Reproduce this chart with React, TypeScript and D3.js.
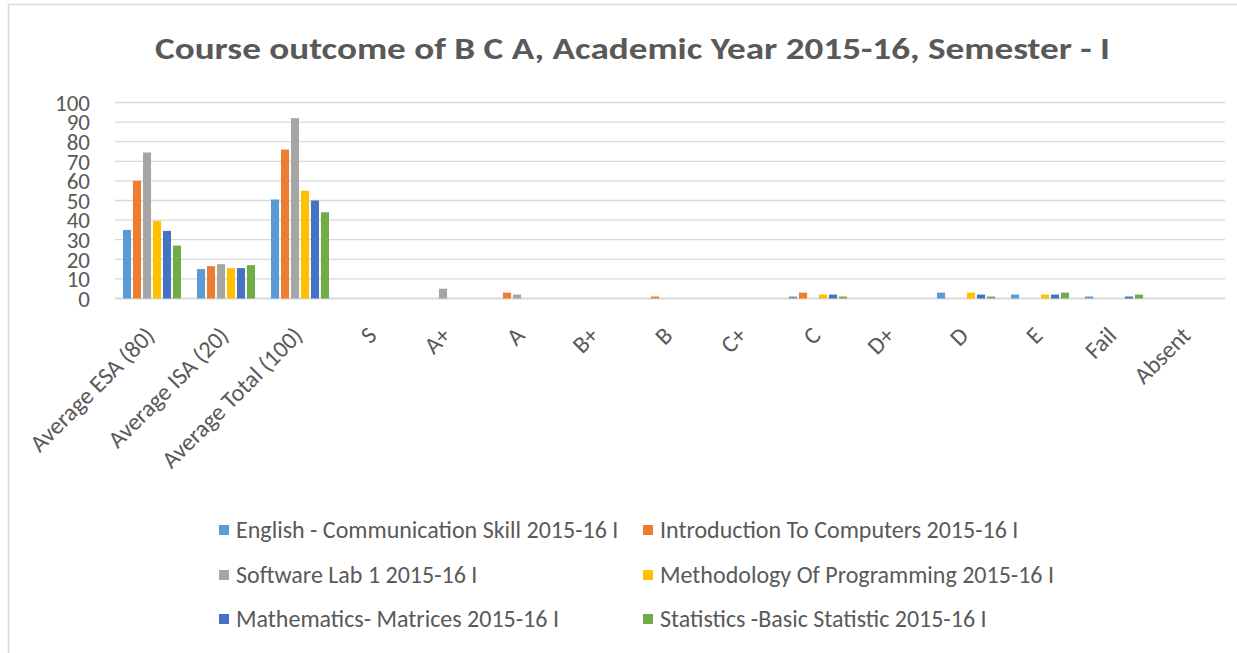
import React, { useEffect, useRef } from 'react';
import * as d3 from 'd3';

const categories = [
  'Average ESA (80)', 'Average ISA (20)', 'Average Total (100)', 'S', 'A+', 'A', 'B+', 'B',
  'C+', 'C', 'D+', 'D', 'E', 'Fail', 'Absent',
];

const seriesNames = [
  'English - Communication Skill 2015-16 I',
  'Introduction To Computers 2015-16 I',
  'Software Lab 1 2015-16 I',
  'Methodology Of Programming 2015-16 I',
  'Mathematics- Matrices 2015-16 I',
  'Statistics -Basic Statistic 2015-16 I',
];

const english = [35, 15, 50.5, 0, 0, 0, 0, 0, 0, 1, 0, 3, 2, 1, 0];
const introComputers = [60, 16.5, 76, 0, 0, 3, 0, 1, 0, 3, 0, 0, 0, 0, 0];
const softwareLab = [74.5, 17.5, 92, 0, 5, 2, 0, 0, 0, 0, 0, 0, 0, 0, 0];
const methodology = [39.5, 15.5, 55, 0, 0, 0, 0, 0, 0, 2, 0, 3, 2, 0, 0];
const mathematics = [34.5, 15.5, 50, 0, 0, 0, 0, 0, 0, 2, 0, 2, 2, 1, 0];
const statistics = [27, 17, 44, 0, 0, 0, 0, 0, 0, 1, 0, 1, 3, 2, 0];

const yTicks = [0, 10, 20, 30, 40, 50, 60, 70, 80, 90, 100];

const colors = ['#5B9BD5', '#ED7D31', '#A5A5A5', '#FFC000', '#4472C4', '#70AD47'];

const FONT = 'Carlito, Calibri, Lato, sans-serif';
const TEXT = '#595959';

const App = () => {
  const svgRef = useRef(null);

  useEffect(() => {
    const allSeries = [english, introComputers, softwareLab, methodology, mathematics, statistics];
    const svg = d3.select(svgRef.current);
    svg.selectAll('*').remove();

    const width = 1237;
    const height = 653;
    const plot = { left: 115, right: 1225, top: 102.5, bottom: 298.5 };

    svg.append('rect')
      .attr('width', width).attr('height', height).attr('fill', '#fff');

    // chart frame
    svg.append('rect')
      .attr('x', 8.5).attr('y', 4.5)
      .attr('width', 1300).attr('height', 700)
      .attr('fill', 'none')
      .attr('stroke', '#d9d9d9')
      .attr('stroke-width', 1.5);

    svg.append('text')
      .attr('x', 155)
      .attr('y', 59)
      .attr('textLength', 955)
      .attr('lengthAdjust', 'spacingAndGlyphs')
      .attr('font-family', FONT)
      .attr('font-weight', 'bold')
      .attr('font-size', 31)
      .attr('fill', TEXT)
      .text('Course outcome of B C A, Academic Year 2015-16, Semester - I');

    const x0 = d3.scaleBand()
      .domain(categories)
      .range([plot.left, plot.right])
      .padding(0);

    const x1 = d3.scaleBand()
      .domain(seriesNames)
      .range([0, x0.bandwidth()])
      .paddingInner(0.19)
      .paddingOuter(0.8);

    const y = d3.scaleLinear()
      .domain([0, 100])
      .range([plot.bottom, plot.top]);

    // gridlines
    svg.append('g')
      .selectAll('line')
      .data(yTicks)
      .enter().append('line')
      .attr('x1', plot.left).attr('x2', plot.right)
      .attr('y1', d => y(d)).attr('y2', d => y(d))
      .attr('stroke', '#d9d9d9')
      .attr('stroke-width', d => (d === 0 ? 2 : 1.3));

    // y labels
    svg.append('g')
      .selectAll('text')
      .data(yTicks)
      .enter().append('text')
      .attr('x', 90)
      .attr('y', d => y(d))
      .attr('dy', '0.36em')
      .attr('text-anchor', 'end')
      .attr('font-family', FONT)
      .attr('font-size', 23)
      .attr('fill', TEXT)
      .text(d => d);

    // bars
    seriesNames.forEach((name, si) => {
      svg.append('g')
        .attr('fill', colors[si])
        .selectAll('rect')
        .data(allSeries[si].map((v, ci) => ({ v, cat: categories[ci] })))
        .enter().append('rect')
        .attr('x', d => x0(d.cat) + x1(name))
        .attr('y', d => y(d.v))
        .attr('width', x1.bandwidth())
        .attr('height', d => y(0) - y(d.v));
    });

    // x labels
    svg.append('g')
      .selectAll('text')
      .data(categories)
      .enter().append('text')
      .attr('transform', d => `translate(${x0(d) + x0.bandwidth() / 2 + 4},337) rotate(-45)`)
      .attr('text-anchor', 'end')
      .attr('font-family', FONT)
      .attr('font-size', 24)
      .attr('fill', TEXT)
      .text(d => d);

    // legend
    const legendCols = [219, 643];
    const legendRows = [530, 575, 619];
    const legend = svg.append('g')
      .selectAll('g')
      .data(seriesNames)
      .enter().append('g')
      .attr('transform', (d, i) => `translate(${legendCols[i % 2]},${legendRows[Math.floor(i / 2)]})`);

    legend.append('rect')
      .attr('x', 0).attr('y', -5)
      .attr('width', 10).attr('height', 10)
      .attr('fill', (d, i) => colors[i]);

    legend.append('text')
      .attr('x', 17)
      .attr('y', 0)
      .attr('dy', '0.35em')
      .attr('font-family', FONT)
      .attr('font-size', 24)
      .attr('fill', TEXT)
      .text(d => d);
  }, []);

  return (
    <svg
      ref={svgRef}
      width={1237}
      height={653}
      style={{ position: 'absolute', left: 0, top: 0, display: 'block' }}
    />
  );
};

export default App;
